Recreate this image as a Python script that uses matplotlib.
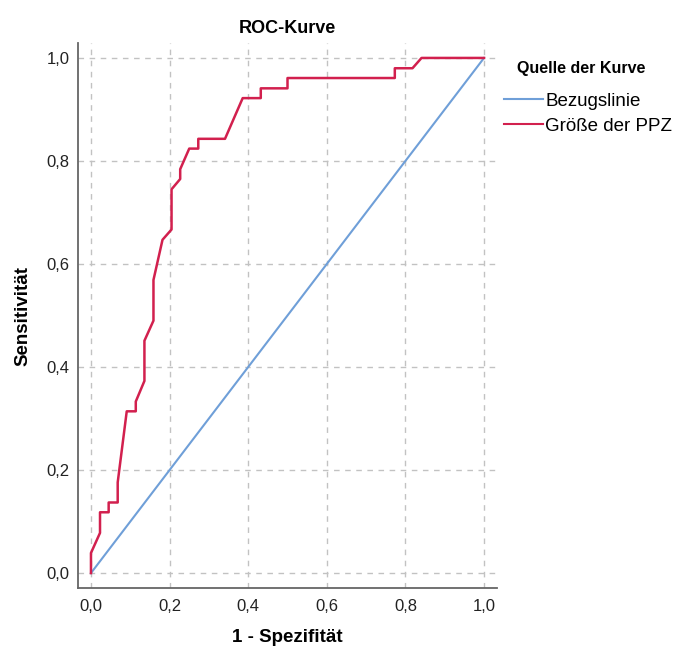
import matplotlib
matplotlib.use("Agg")
import matplotlib.pyplot as plt
from matplotlib.ticker import FixedLocator

# ROC curve points (1 - Spezifität, Sensitivität)
fpr = [0.0, 0.0, 0.023, 0.023, 0.045, 0.045, 0.068, 0.068, 0.091, 0.114, 0.114,
       0.136, 0.136, 0.159, 0.159, 0.182, 0.205, 0.205, 0.227, 0.227, 0.25,
       0.273, 0.273, 0.341, 0.386, 0.432, 0.432, 0.5, 0.5, 0.773, 0.773,
       0.818, 0.841, 1.0]
tpr = [0.0, 0.039, 0.078, 0.118, 0.118, 0.137, 0.137, 0.176, 0.314, 0.314, 0.333,
       0.373, 0.451, 0.490, 0.569, 0.647, 0.667, 0.745, 0.765, 0.784, 0.824,
       0.824, 0.843, 0.843, 0.922, 0.922, 0.941, 0.941, 0.961, 0.961, 0.980,
       0.980, 1.0, 1.0]
ref_x = [0.0, 1.0]
ref_y = [0.0, 1.0]
ticks = [0.0, 0.2, 0.4, 0.6, 0.8, 1.0]
tick_labels = ["0,0", "0,2", "0,4", "0,6", "0,8", "1,0"]

plt.rcParams['font.family'] = ['Liberation Sans', 'DejaVu Sans']

fig = plt.figure(figsize=(6.83, 6.55), dpi=100)
ax = fig.add_axes([78/683, 1-588/655, (497-78)/683, (588-43)/655])

ax.plot(ref_x, ref_y, color='#6f9fd8', lw=1.5, label='Bezugslinie', zorder=3)
ax.plot(fpr, tpr, color='#d2204e', lw=1.8, label='Größe der PPZ', zorder=4)

ax.set_xlim(-0.033, 1.033)
ax.set_ylim(-0.029, 1.029)
ax.xaxis.set_major_locator(FixedLocator(ticks))
ax.yaxis.set_major_locator(FixedLocator(ticks))
ax.set_xticklabels(tick_labels, fontsize=12, color='#222222')
ax.set_yticklabels(tick_labels, fontsize=12, color='#222222')
ax.tick_params(axis='y', length=0, pad=6)
ax.tick_params(axis='x', length=0, pad=8)

ax.grid(True, color='#c2c2c2', linestyle=(0, (4, 4)), lw=1.0, zorder=0)
for s in ['top', 'right']:
    ax.spines[s].set_visible(False)
for s in ['left', 'bottom']:
    ax.spines[s].set_color('#666666')
    ax.spines[s].set_linewidth(1.3)

ax.set_title('ROC-Kurve', fontsize=13, fontweight='bold', pad=7)
ax.set_xlabel('1 - Spezifität', fontsize=13.5, fontweight='bold', labelpad=11)
ax.set_ylabel('Sensitivität', fontsize=13.5, fontweight='bold', labelpad=11)

fig.text(517/683, 1-68/655, 'Quelle der Kurve', fontsize=11.5, fontweight='bold',
         ha='left', va='center')
leg = ax.legend(loc='upper left', bbox_to_anchor=(502/683, 1-91/655),
                bbox_transform=fig.transFigure, frameon=False,
                fontsize=13.5, handlelength=2.1,
                handletextpad=0.1, labelspacing=0.42, borderpad=0.1,
                borderaxespad=0)
for line in leg.get_lines():
    line.set_linewidth(1.5)

fig.savefig('out.png', dpi=100)
